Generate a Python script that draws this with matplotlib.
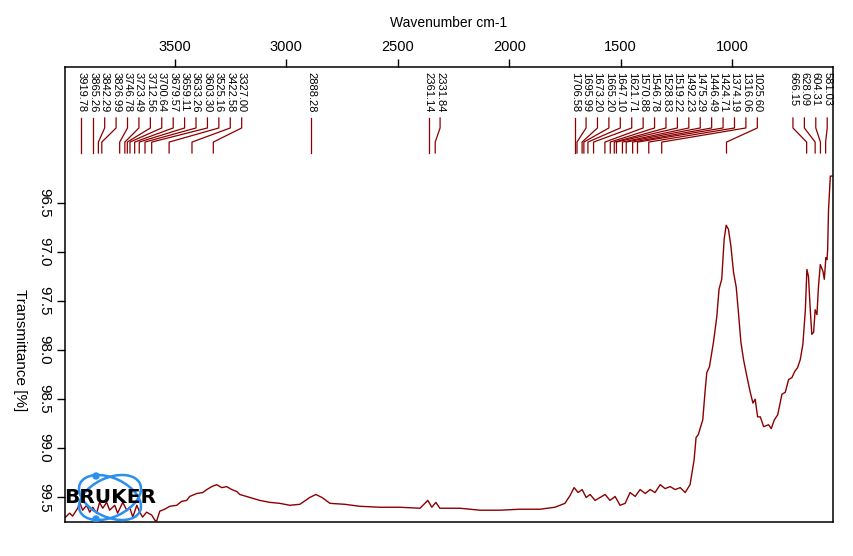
import matplotlib
import matplotlib.pyplot as plt
from matplotlib.patches import Circle, Ellipse

matplotlib.use("Agg")

plt.rcParams["font.family"] = ["Liberation Sans", "DejaVu Sans"]

# spectrum (cm-1, %T)
wavenumber = [
    3994, 3971, 3958, 3935, 3926, 3913, 3895, 3881, 3868, 3850, 3837, 3823,
    3805, 3792, 3769, 3756, 3733, 3715, 3702, 3688, 3670, 3657, 3644, 3626,
    3603, 3590, 3581, 3567, 3545, 3522, 3491, 3469, 3446, 3433, 3401, 3374,
    3356, 3334, 3312, 3289, 3267, 3244, 3222, 3208, 3163, 3119, 3074, 3029,
    2984, 2939, 2894, 2867, 2840, 2804, 2737, 2670, 2580, 2490, 2400, 2365,
    2347, 2329, 2311, 2221, 2131, 2041, 1952, 1862, 1795, 1750, 1727, 1709,
    1691, 1673, 1655, 1637, 1615, 1592, 1570, 1548, 1525, 1503, 1480, 1458,
    1435, 1413, 1390, 1368, 1346, 1323, 1301, 1278, 1256, 1233, 1211, 1189,
    1171, 1162, 1152, 1132, 1122, 1114, 1102, 1084, 1069, 1059, 1047, 1036,
    1027, 1017, 1006, 994, 982, 972, 961, 949, 934, 919, 907, 897, 886, 874,
    859, 837, 825, 811, 796, 777, 762, 747, 732, 720, 707, 695, 683, 672,
    665, 658, 650, 643, 635, 628, 620, 613, 605, 593, 587, 580, 575, 572,
    568, 560, 552,
]
transmittance = [
    99.71, 99.66, 99.69, 99.61, 99.55, 99.63, 99.58, 99.65, 99.60, 99.66,
    99.55, 99.61, 99.55, 99.63, 99.58, 99.66, 99.55, 99.63, 99.60, 99.70,
    99.58, 99.65, 99.70, 99.65, 99.68, 99.73, 99.74, 99.64, 99.62, 99.59,
    99.58, 99.54, 99.53, 99.49, 99.46, 99.45, 99.42, 99.39, 99.37, 99.40,
    99.39, 99.42, 99.44, 99.47, 99.50, 99.53, 99.55, 99.56, 99.58, 99.57,
    99.50, 99.47, 99.50, 99.56, 99.57, 99.59, 99.60, 99.60, 99.61, 99.53,
    99.60, 99.55, 99.61, 99.61, 99.63, 99.63, 99.62, 99.62, 99.60, 99.56,
    99.48, 99.40, 99.45, 99.42, 99.50, 99.47, 99.53, 99.50, 99.47, 99.53,
    99.49, 99.58, 99.56, 99.45, 99.49, 99.42, 99.46, 99.42, 99.45, 99.37,
    99.41, 99.39, 99.42, 99.40, 99.45, 99.37, 99.12, 98.89, 98.86, 98.71,
    98.43, 98.23, 98.17, 97.92, 97.66, 97.38, 97.28, 96.87, 96.73, 96.77,
    96.94, 97.21, 97.36, 97.62, 97.92, 98.10, 98.27, 98.43, 98.54, 98.50,
    98.68, 98.68, 98.78, 98.76, 98.80, 98.71, 98.66, 98.45, 98.43, 98.30,
    98.28, 98.22, 98.18, 98.10, 97.94, 97.59, 97.18, 97.25, 97.59, 97.84,
    97.82, 97.59, 97.64, 97.35, 97.13, 97.20, 97.28, 97.06, 97.08, 96.98,
    96.57, 96.23, 96.23,
]

peak_positions = [
    3919.78, 3865.26, 3842.29, 3826.99, 3746.78, 3723.49, 3712.56, 3700.64,
    3679.57, 3659.11, 3633.26, 3603.30, 3525.16, 3422.58, 3327.00, 2888.28,
    2361.14, 2331.84, 1706.58, 1695.99, 1673.20, 1665.20, 1647.10, 1621.71,
    1570.88, 1546.78, 1528.83, 1519.22, 1492.23, 1475.29, 1446.49, 1424.71,
    1374.19, 1316.06, 1025.60, 666.15, 628.09, 604.31, 581.03,
]

x_ticks = [3500, 3000, 2500, 2000, 1500, 1000]
y_ticks = [96.5, 97.0, 97.5, 98.0, 98.5, 99.0, 99.5]

LINE_COLOR = "#8b0000"
LOGO_BLUE = "#2b8ff0"

fig = plt.figure(figsize=(8.54, 5.56), dpi=100)
ax = fig.add_axes([65 / 854, 34 / 556, 768 / 854, 455 / 556])

ax.plot(wavenumber, transmittance, color=LINE_COLOR, lw=1.0)

# peak labels, spread so they do not overlap
gap = 51.2
label_x = []
for p in peak_positions:
    if label_x and p > label_x[-1] - gap:
        label_x.append(label_x[-1] - gap)
    else:
        label_x.append(p)
label_x[-1] = max(label_x[-1], 574)
for i in range(len(label_x) - 2, -1, -1):
    label_x[i] = max(label_x[i], label_x[i + 1] + gap)

trans = ax.get_xaxis_transform()
for p, lx in zip(peak_positions, label_x):
    ax.plot([lx, lx, p, p], [0.888, 0.866, 0.835, 0.811], transform=trans,
            color=LINE_COLOR, lw=0.9)
    ax.text(lx, 0.989, f"{p:.2f}", transform=trans, rotation=270,
            ha="center", va="top", fontsize=8)

ax.set_xlim(3992, 548)
ax.set_ylim(99.75, 95.12)

ax.xaxis.tick_top()
ax.xaxis.set_label_position("top")
ax.set_xticks(x_ticks)
ax.set_xticklabels([str(t) for t in x_ticks], fontsize=10.5)
ax.set_yticks(y_ticks)
ax.set_yticklabels([f"{t:.1f}" for t in y_ticks], fontsize=11,
                   rotation=270, va="center")
ax.tick_params(axis="x", direction="out", length=6, width=1, pad=3.5)
ax.tick_params(axis="y", direction="out", length=6, width=1, pad=4)
ax.set_xlabel("Wavenumber cm-1", fontsize=10, va="center")
ax.xaxis.set_label_coords(0.5, 1.097)
ax.set_ylabel("Transmittance [%]", fontsize=11, rotation=270,
              va="center", ha="center")
ax.yaxis.set_label_coords(-0.0586, 0.378)
for s in ax.spines.values():
    s.set_linewidth(1.1)

# Bruker logo
logo = fig.add_axes([65 / 854, 34 / 556, 95 / 854, 54 / 556])
logo.set_xlim(0, 95)
logo.set_ylim(0, 54)
logo.axis("off")
for ang in (25, -25):
    logo.add_patch(Ellipse((45, 24.5), 66, 39, angle=ang, fill=False,
                           ec=LOGO_BLUE, lw=1.8))
logo.add_patch(Circle((31, 46), 3, color=LOGO_BLUE))
logo.add_patch(Circle((31, 3), 3, color=LOGO_BLUE))
logo.text(45, 24.5, "BRUKER", ha="center", va="center", fontsize=14.5,
          fontweight="heavy", family="DejaVu Sans", color="black")

fig.savefig("out.png", dpi=100)
